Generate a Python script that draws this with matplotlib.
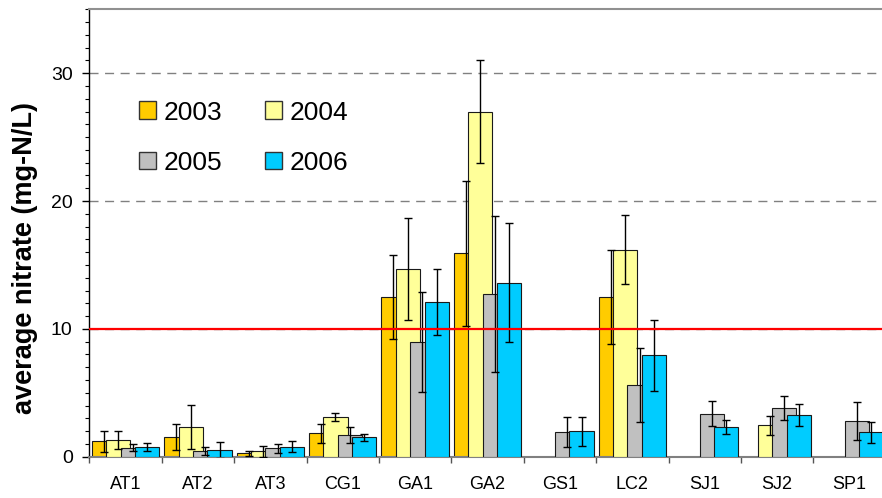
import numpy as np
import matplotlib
matplotlib.use("Agg")
import matplotlib.pyplot as plt
from matplotlib.patches import Patch

plt.rcParams["font.family"] = ["Liberation Sans", "DejaVu Sans"]

nan = np.nan

SITES = ["AT1", "AT2", "AT3", "CG1", "GA1", "GA2", "GS1", "LC2", "SJ1", "SJ2", "SP1"]
YEARS = ["2003", "2004", "2005", "2006"]

# mean nitrate and error per year (nan = no sample)
mean_2003 = [1.2, 1.56, 0.28, 1.82, 12.5, 15.9, nan, 12.5, nan, nan, nan]
err_2003 = [0.8, 1.0, 0.2, 0.72, 3.3, 5.7, nan, 3.65, nan, nan, nan]
mean_2004 = [1.33, 2.31, 0.41, 3.09, 14.7, 27.0, nan, 16.2, nan, 2.47, nan]
err_2004 = [0.7, 1.73, 0.4, 0.31, 4.0, 4.0, nan, 2.68, nan, 0.75, nan]
mean_2005 = [0.7, 0.44, 0.65, 1.69, 9.0, 12.75, 1.9, 5.62, 3.36, 3.8, 2.78]
err_2005 = [0.27, 0.31, 0.35, 0.6, 3.9, 6.1, 1.18, 2.87, 0.96, 0.94, 1.5]
mean_2006 = [0.73, 0.52, 0.78, 1.51, 12.1, 13.6, 1.98, 7.94, 2.31, 3.25, 1.9]
err_2006 = [0.32, 0.6, 0.45, 0.3, 2.55, 4.66, 1.16, 2.77, 0.57, 0.86, 0.83]

LIMIT = 10
COLORS = ["#FFCC00", "#FFFF99", "#C0C0C0", "#00CCFF"]

means = [mean_2003, mean_2004, mean_2005, mean_2006]
errs = [err_2003, err_2004, err_2005, err_2006]

fig = plt.figure(figsize=(8.82, 4.98), dpi=100)
ax = fig.add_axes([89.3 / 882, 41.3 / 498, 796.4 / 882, 447.4 / 498])

x = np.arange(len(SITES)) + 0.5
step = 0.199
width = 0.336

for k, (m, e) in enumerate(zip(means, errs)):
    pos = x + (k - 1.5) * step
    ax.bar(pos, m, width=width, color=COLORS[k], edgecolor="#1a1a1a",
           linewidth=0.8, zorder=2 + k)
for k, (m, e) in enumerate(zip(means, errs)):
    pos = x + (k - 1.5) * step
    ax.errorbar(pos, m, yerr=e, fmt="none", ecolor="black", elinewidth=1.0,
                capsize=2.9, capthick=1.0, zorder=7)

ax.axhline(LIMIT, color="#FF0000", linewidth=1.6, zorder=8)

ax.set_xlim(0, len(SITES))
ax.set_ylim(0, 35)

# gridlines
for g in [10, 20, 30]:
    ax.axhline(g, color="#808080", linewidth=1.0, linestyle=(0, (6.5, 4.7)), zorder=0.5)

ax.set_yticks([0, 10, 20, 30])
ax.set_yticks(np.arange(0, 36, 1), minor=True)
ax.tick_params(axis="y", which="major", length=5, width=1, labelsize=14, pad=7)
ax.tick_params(axis="y", which="minor", length=3, width=0.8)

ax.set_xticks(np.arange(0, len(SITES) + 1))
ax.set_xticklabels([])
ax.set_xticks(x, minor=True)
ax.set_xticklabels(SITES, minor=True)
ax.tick_params(axis="x", which="major", length=4, width=1, color="#555555")
ax.tick_params(axis="x", which="minor", length=0, labelsize=13, pad=14)

ax.spines["right"].set_visible(False)
ax.spines["top"].set_color("#909090")
ax.spines["top"].set_linewidth(1.5)
ax.spines["bottom"].set_color("#808080")
ax.spines["bottom"].set_linewidth(1.5)
ax.spines["left"].set_color("black")
ax.spines["left"].set_linewidth(1.0)

ax.set_ylabel("average nitrate (mg-N/L)", fontsize=19.5, fontweight="bold", va="center")
ax.yaxis.set_label_coords(-0.081, 0.444)

handles = [Patch(facecolor=c, edgecolor="#333333", linewidth=1.0) for c in COLORS]
order = [0, 2, 1, 3]
ax.legend([handles[i] for i in order], [YEARS[i] for i in order], ncol=2,
          loc="upper left", bbox_to_anchor=(0.0624, 0.796), frameon=False,
          fontsize=19, handlelength=0.65, handleheight=0.65, handletextpad=0.3,
          columnspacing=1.6, labelspacing=1.0, borderaxespad=0.0, borderpad=0.0)

fig.savefig("out.png", dpi=100)
